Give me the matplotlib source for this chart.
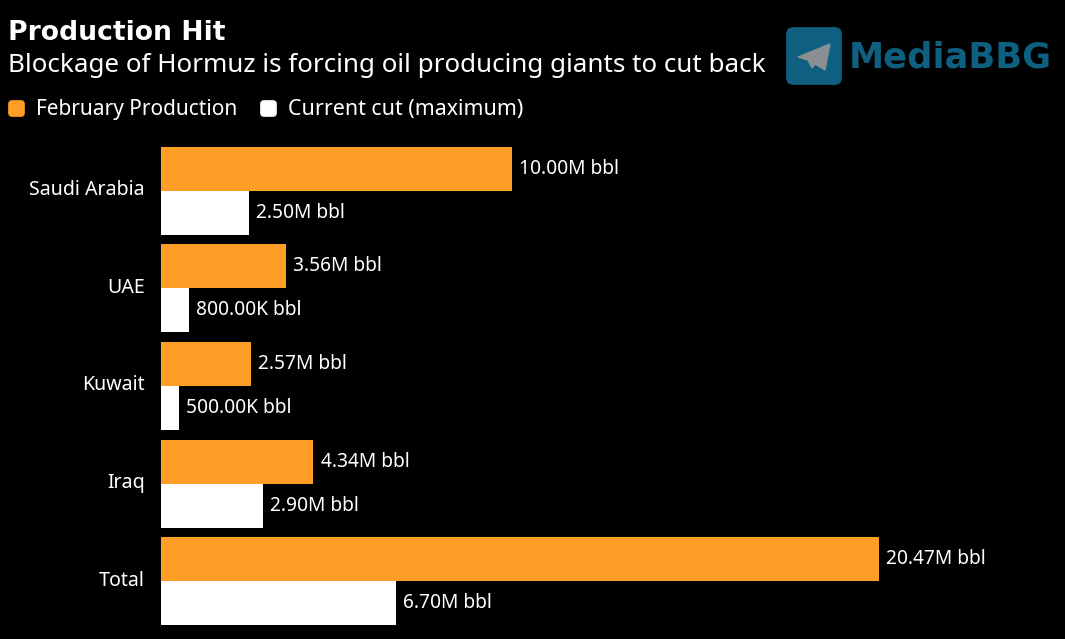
import matplotlib
matplotlib.use("Agg")
import matplotlib.pyplot as plt
from matplotlib.patches import FancyBboxPatch, Polygon
from matplotlib.transforms import ScaledTranslation

countries = ["Saudi Arabia", "UAE", "Kuwait", "Iraq", "Total"]
february = [10.00, 3.56, 2.57, 4.34, 20.47]
current_cut = [2.50, 0.80, 0.50, 2.90, 6.70]
february_labels = ["10.00M bbl", "3.56M bbl", "2.57M bbl", "4.34M bbl", "20.47M bbl"]
cut_labels = ["2.50M bbl", "800.00K bbl", "500.00K bbl", "2.90M bbl", "6.70M bbl"]

W, H = 1065, 639
ORANGE = "#ff9e27"
LOGO = "#0e5f80"

plt.rcParams["font.family"] = "Noto Sans"

fig = plt.figure(figsize=(W / 100, H / 100), dpi=100, facecolor="black")
ax = fig.add_axes([161 / W, 1 - 630 / H, (W - 161) / W, 488 / H], facecolor="black")


def px(x, y):
    return x / W, 1 - y / H


# bars
h = 0.45
for i in range(len(countries)):
    ax.barh(i - h / 2, february[i], height=h, color=ORANGE)
    ax.barh(i + h / 2, current_cut[i], height=h, color="white")
    ax.text(february[i] + 0.21, i - h / 2, february_labels[i], color="white",
            fontsize=13.8, va="center", ha="left")
    ax.text(current_cut[i] + 0.21, i + h / 2, cut_labels[i], color="white",
            fontsize=13.8, va="center", ha="left")

ax.set_xlim(0, (W - 161) / 35.07)
ax.set_ylim(4.5, -0.5)
ax.set_yticks(range(len(countries)))
ax.set_yticklabels(countries, color="white", fontsize=14.1)
ax.tick_params(axis="y", length=0, pad=11.5)
# labels sit a little above the middle of each group
up = ScaledTranslation(0, 3 / 100, fig.dpi_scale_trans)
for t in ax.get_yticklabels():
    t.set_transform(t.get_transform() + up)
ax.xaxis.set_visible(False)
for s in ax.spines.values():
    s.set_visible(False)

# titles
fig.text(*px(8, 33), "Production Hit", color="white", fontsize=19.2, fontweight="bold", va="center",
         family="DejaVu Sans")
fig.text(*px(8, 66), "Blockage of Hormuz is forcing oil producing giants to cut back",
         color="white", fontsize=18.75, va="center")

# legend
for x, c in ((9, ORANGE), (261, "white")):
    fig.add_artist(FancyBboxPatch(px(x + 2, 114), 11 / W, 11 / H, transform=fig.transFigure,
                                  boxstyle="round,pad=0.002,rounding_size=0.003", color=c,
                                  mutation_aspect=W / H))
fig.text(*px(36, 110), "February Production", color="white", fontsize=15, va="center")
fig.text(*px(288, 110), "Current cut (maximum)", color="white", fontsize=15.4, va="center")

# watermark
fig.add_artist(FancyBboxPatch(px(789, 82), 50 / W, 52 / H, transform=fig.transFigure,
                              boxstyle="round,pad=0.002,rounding_size=0.006", color=LOGO,
                              mutation_aspect=W / H))
fig.add_artist(Polygon([px(798, 57), px(830, 44), px(825, 70), px(815, 64), px(812, 68), px(808, 60)],
                       transform=fig.transFigure, color="#8a8f92"))
fig.text(*px(849, 57), "MediaBBG", color=LOGO, fontsize=25.4, fontweight="bold", va="center",
         family="DejaVu Sans")

fig.savefig("out.png", dpi=100, facecolor="black")
